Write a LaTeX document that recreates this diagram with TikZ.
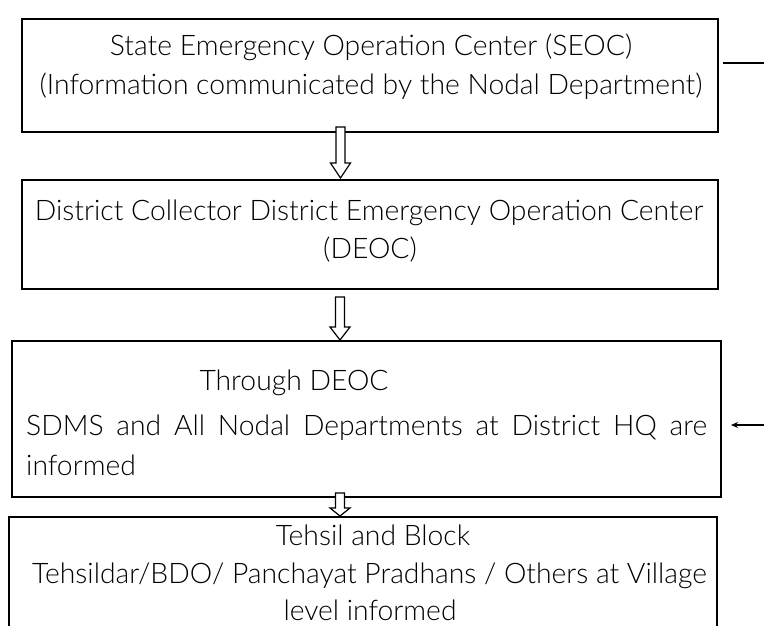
\documentclass[tikz,border=0pt]{standalone}
\usepackage{fontspec}
\setmainfont{Lato Light}
\usetikzlibrary{calc,arrows.meta}
\tikzset{
  box/.style={draw=black, line width=1.3pt, fill=none, inner sep=0pt},
  txt/.style={inner sep=0pt, anchor=base, font=\fontsize{28.3}{34}\selectfont},
  hollow/.style={draw=black, fill=white, line width=1.2pt, line join=miter},
  plainline/.style={draw=black, line width=1.5pt}
}
\newcommand{\blockarrow}[3]{%
  \draw[hollow] ($(#1)+(-4.5,0)$) -- ($(#2)+(-4.5,-#3)$) -- ($(#2)+(-10,-#3)$) -- (#2)
    -- ($(#2)+(10,-#3)$) -- ($(#2)+(4.5,-#3)$) -- ($(#1)+(4.5,0)$) -- cycle;}
\begin{document}
\begin{tikzpicture}[x=1pt,y=-1pt]
\fill[white] (0,0) rectangle (764,625);
\clip (0,0) rectangle (764,625);
% boxes
\node[box, minimum width=696pt, minimum height=113pt] (seoc) at (370,75.5) {};
\node[box, minimum width=696pt, minimum height=109pt] (deoc) at (370,234.5) {};
\node[box, minimum width=709pt, minimum height=156pt] (hq) at (366.5,419) {};
\node[box, minimum width=708pt, minimum height=140pt] (tehsil) at (363,587) {};
% texts
\node[txt] (t1a) at (371,55) {State Emergency Operation Center (SEOC)};
\node[txt] (t1b) at (371,94) {(Information communicated by the Nodal Department)};
\node[txt] (t2a) at (369,220) {District Collector District Emergency Operation Center};
\node[txt] (t2b) at (370,258) {(DEOC)};
\node[txt] (t3a) at (294,390) {Through DEOC};
\node[txt, anchor=base west] (t3b) at (26,435) {\makebox[681pt][l]{SDMS\hfill and\hfill All\hfill Nodal\hfill Departments\hfill at\hfill District\hfill HQ\hfill are}};
\node[txt, anchor=base west] (t3c) at (26,475) {informed};
\node[txt] (t4a) at (373,545) {Tehsil and Block};
\node[txt] (t4b) at (369.5,583) {Tehsildar/BDO/ Panchayat Pradhans / Others at Village};
\node[txt] (t4c) at (370,620) {level informed};
% hollow arrows
\coordinate (a1s) at (340.5,127);
\coordinate (a1t) at (340.5,178);
\coordinate (a2s) at (340,297);
\coordinate (a2t) at (340,340);
\coordinate (a3s) at (340,493);
\coordinate (a3t) at (340,516);
\blockarrow{a1s}{a1t}{15}
\blockarrow{a2s}{a2t}{13}
\blockarrow{a3s}{a3t}{8}
% right side lines
\coordinate (r1a) at (723,63);
\coordinate (r1b) at (764,63);
\draw[plainline] (r1a) -- (r1b);
\coordinate (r2a) at (764,425);
\coordinate (r2b) at (731,425);
\draw[plainline, -{Stealth[length=7pt,width=6pt]}] (r2a) -- (r2b);
\end{tikzpicture}
\end{document}
